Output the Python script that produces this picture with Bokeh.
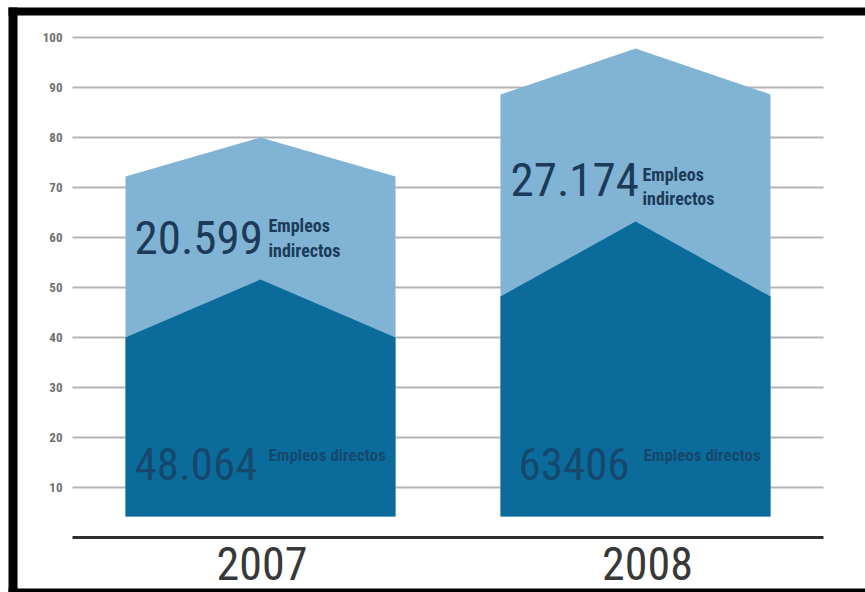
from bokeh.plotting import figure
from bokeh.models import Range1d
from bokeh.core.properties import value
from bokeh.embed import file_html
from bokeh.resources import INLINE

# ---------------- data (axis units) ----------------
years = ["2007", "2008"]
direct_text = ["48.064", "63406"]
indirect_text = ["20.599", "27.174"]
base_level = [4.2, 4.2]
direct_shoulder = [40.0, 48.2]
direct_peak = [51.6, 63.2]
total_shoulder = [72.2, 88.6]
total_peak = [80.0, 97.8]
y_ticks = [10, 20, 30, 40, 50, 60, 70, 80, 90, 100]

# ---------------- layout helpers (canvas pixel -> data) ----------------
W, H = 865, 592
X0, XS, Y0, YS = 260.0, 375.0, 537.0, 5.0


def px(v):
    return (v - X0) / XS


def py(v):
    return (Y0 - v) / YS


FONT = value("Liberation Sans Narrow, Roboto Condensed, DejaVu Sans Condensed, Arial Narrow, sans-serif")

p = figure(width=W, height=H, output_backend="svg", toolbar_location=None,
           x_range=Range1d(px(0), px(W)), y_range=Range1d(py(H), py(0)),
           x_axis_location=None, y_axis_location=None, min_border=0,
           background_fill_color="white", border_fill_color="white",
           outline_line_color=None)
p.grid.visible = False

# black frame (left, top, bottom bands)
p.quad(left=[px(8), px(8), px(8)], right=[px(17), px(W), px(W)],
       bottom=[py(592), py(15), py(592)], top=[py(7), py(7), py(588)],
       fill_color="black", line_color=None)

# gridlines
gx0, gx1 = px(72), px(823)
p.segment(x0=[gx0] * len(y_ticks), x1=[gx1] * len(y_ticks), y0=y_ticks, y1=y_ticks,
          line_color="#b4b4b4", line_width=2)
# baseline
p.segment(x0=[gx0], x1=[gx1], y0=[0], y1=[0], line_color="#2e2e2e", line_width=3)

# tick labels
p.text(x=[px(62)] * len(y_ticks), y=y_ticks, text=[str(t) for t in y_ticks],
       text_align="right", text_baseline="middle", text_font=FONT,
       text_font_size="13px", text_font_style="bold", text_color="#707070")

# pentagon bars
centers = list(range(len(years)))
hw = 135.0 / XS


def pent(c, b, s, t):
    return ([c - hw, c - hw, c, c + hw, c + hw], [b, s, t, s, b])


light = [pent(c, b, s, t) for c, b, s, t in zip(centers, base_level, total_shoulder, total_peak)]
dark = [pent(c, b, s, t) for c, b, s, t in zip(centers, base_level, direct_shoulder, direct_peak)]
p.patches(xs=[l[0] for l in light], ys=[l[1] for l in light],
          fill_color="#80b3d4", line_color=None)
p.patches(xs=[d[0] for d in dark], ys=[d[1] for d in dark],
          fill_color="#0b6c9c", line_color=None)

# big numbers
ind_x = [px(134), 1 + (510 - 635) / XS]
ind_y = [py(237), py(179)]
p.text(x=ind_x, y=ind_y, text=indirect_text, text_font=FONT, text_font_size="47px",
       text_baseline="middle", text_align="left", text_color="#1b3b58")
dir_x = [px(134), 1 + (518 - 635) / XS]
dir_y = [py(463), py(463)]
p.text(x=dir_x, y=dir_y, text=direct_text, text_font=FONT, text_font_size="45px",
       text_baseline="middle", text_align="left", text_color="#15486c")

# small labels
small_x = [px(268), 1 + (642 - 635) / XS]
p.text(x=small_x, y=[py(225), py(174)], text=["Empleos", "Empleos"], text_font=FONT,
       text_font_size="18px", text_font_style="bold", text_baseline="middle",
       text_color="#1b3b58")
p.text(x=small_x, y=[py(250), py(198)], text=["indirectos", "indirectos"], text_font=FONT,
       text_font_size="18px", text_font_style="bold", text_baseline="middle",
       text_color="#1b3b58")
p.text(x=[px(268), 1 + (643 - 635) / XS], y=[py(454), py(454)],
       text=["Empleos directos", "Empleos directos"], text_font=FONT,
       text_font_size="17px", text_font_style="bold", text_baseline="middle",
       text_color="#15486c")

# year labels
p.text(x=[0.004, 1.032], y=[py(563), py(563)], text=years, text_font=FONT,
       text_font_size="46px", text_align="center", text_baseline="middle",
       text_color="#383838")

open("out.html", "w").write(file_html(p, INLINE))
